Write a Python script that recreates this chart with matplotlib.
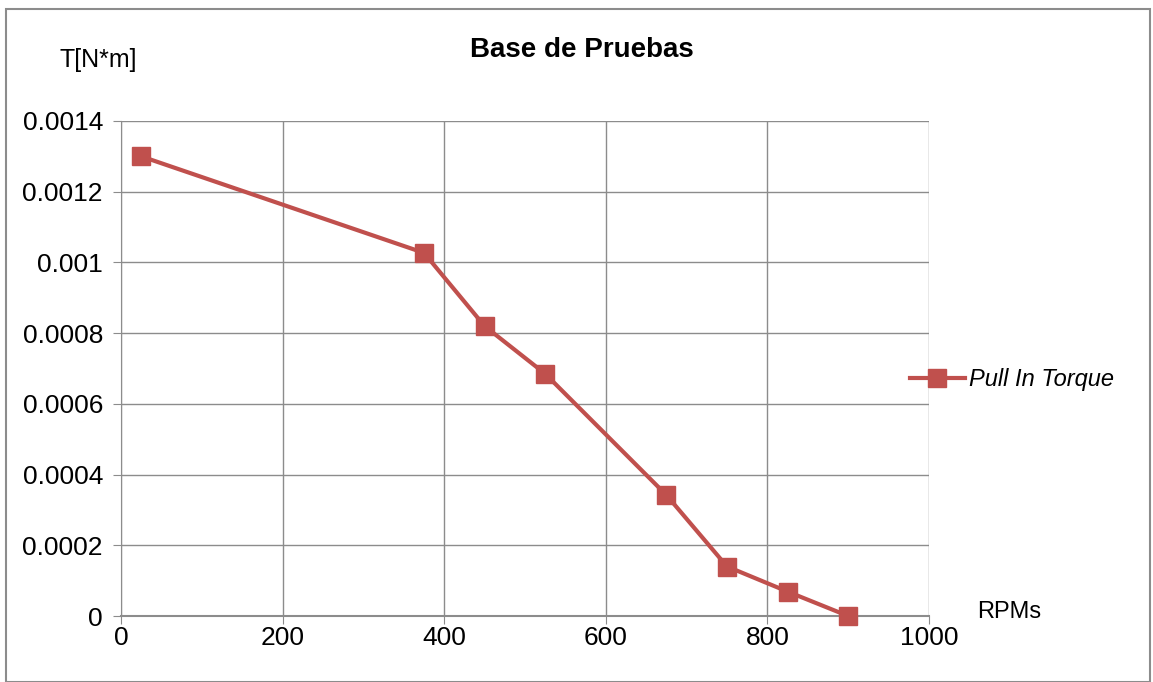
import numpy as np
import matplotlib
matplotlib.use("Agg")
import matplotlib.pyplot as plt
from matplotlib.patches import Rectangle

plt.rcParams['font.family'] = ['Liberation Sans', 'DejaVu Sans']

# Pull in torque measurements
rpm = [25, 375, 450, 525, 675, 750, 825, 900]
torque = [0.0013, 0.001027, 0.00082, 0.000685, 0.000342, 0.00014, 0.000069, 0.0]
x_ticks = [0, 200, 400, 600, 800, 1000]
y_ticks = [0, 0.0002, 0.0004, 0.0006, 0.0008, 0.001, 0.0012, 0.0014]
y_labels = ['0', '0.0002', '0.0004', '0.0006', '0.0008', '0.001', '0.0012', '0.0014']

W, H = 1153, 682
fig = plt.figure(figsize=(W / 100, H / 100), dpi=100)
ax = fig.add_axes([121 / W, 1 - 616 / H, (929 - 121) / W, (616 - 121) / H])

red = '#C0504D'
grid_c = '#8c8c8c'

line, = ax.plot(rpm, torque, color=red, lw=3, marker='s', ms=13,
                clip_on=False, zorder=5, label='Pull In Torque')

ax.set_xlim(0, 1000)
ax.set_ylim(0, 0.0014)
ax.set_xticks(x_ticks)
ax.set_yticks(y_ticks)
ax.set_yticklabels(y_labels)
ax.grid(True, color=grid_c, lw=1)
ax.set_axisbelow(True)

for s in ['top', 'right']:
    ax.spines[s].set_visible(False)
ax.spines['left'].set_color(grid_c)
ax.spines['bottom'].set_color(grid_c)
ax.spines['bottom'].set_linewidth(1.5)
ax.tick_params(axis='both', colors=grid_c, labelcolor='black', labelsize=19,
               length=6, direction='out')
ax.tick_params(axis='x', pad=1)
ax.tick_params(axis='y', pad=7)

fig.text(582 / W, 1 - 50 / H, 'Base de Pruebas', ha='center', va='center',
         fontsize=20, fontweight='bold')
fig.text(98 / W, 1 - 60 / H, 'T[N*m]', ha='center', va='center', fontsize=18)
fig.text(1009 / W, 1 - 612 / H, 'RPMs', ha='center', va='center', fontsize=17)

leg = fig.legend(handles=[line], loc='center left',
                 bbox_to_anchor=(889 / W, 1 - 380 / H), frameon=False,
                 prop={'style': 'italic', 'size': 17}, handlelength=2.3,
                 handletextpad=0.2, markerscale=1.0)

fig.add_artist(Rectangle((6 / W, 0), (W - 9) / W, 1 - 9 / H,
                         transform=fig.transFigure, fill=False,
                         edgecolor='#8c8c8c', lw=1.5))

fig.savefig('out.png', dpi=100)
